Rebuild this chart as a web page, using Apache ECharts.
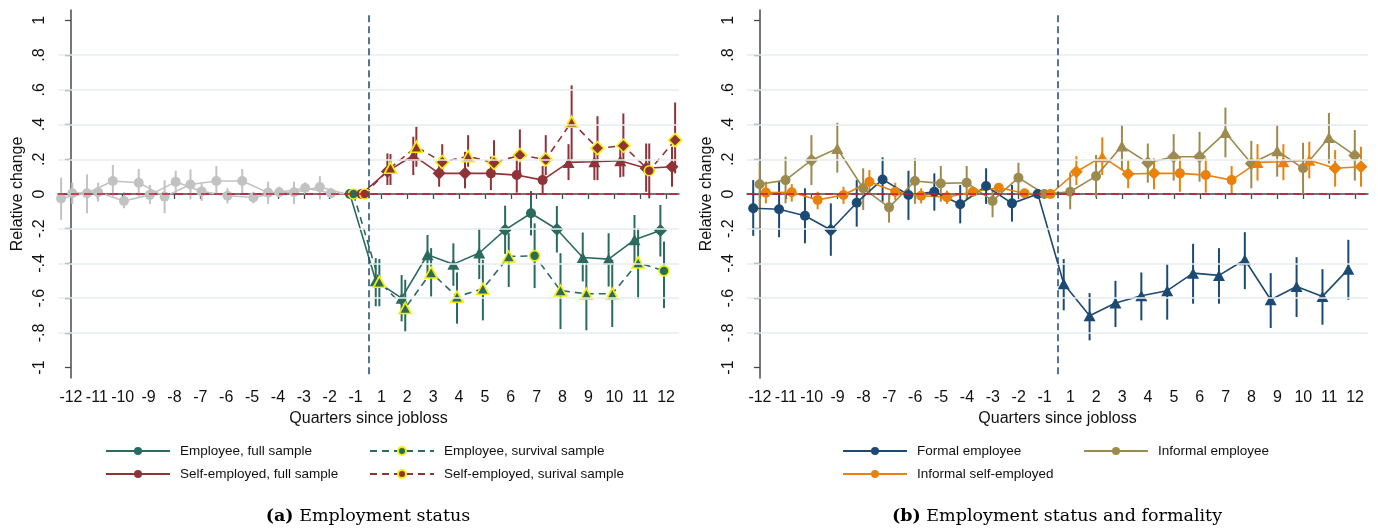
<!DOCTYPE html>
<html>
<head>
<meta charset="utf-8">
<title>Relative change around job loss</title>
<script src="https://cdn.jsdelivr.net/npm/echarts@6/dist/echarts.min.js"></script>
<style>
  html, body { margin: 0; padding: 0; background: #fff; }
  #chart { width: 1378px; height: 530px; }
</style>
</head>
<body>
<div id="chart"></div>
<script>
// Quarters relative to job loss (quarter 0 is the loss itself and is not shown)
const quarterLabels = ['-12','-11','-10','-9','-8','-7','-6','-5','-4','-3','-2','-1',
                       '1','2','3','4','5','6','7','8','9','10','11','12'];
const yTicks = [-1, -0.8, -0.6, -0.4, -0.2, 0, 0.2, 0.4, 0.6, 0.8, 1];
const gridTicks = [-0.8, -0.6, -0.4, -0.2, 0.2, 0.4, 0.6, 0.8];
const N12 = [null, null, null, null, null, null, null, null, null, null, null, null];
const PRE_EMPTY_MARKS = '-----------C';

// ---------- Panel (a): employment status ----------
// Pre-period estimates (quarters -12..-1), drawn in gray
const empPreEst = [-0.025, 0.004, 0.075, 0.065, -0.015, 0.055, 0.075, 0.075, 0.008, 0.010, 0.040, 0];
const empPreLo  = [-0.149, -0.111, -0.015, -0.015, -0.111, -0.031, -0.006, 0.004, -0.057, -0.057, -0.031, null];
const empPreHi  = [0.094, 0.113, 0.167, 0.144, 0.079, 0.142, 0.161, 0.144, 0.071, 0.071, 0.103, null];
const selfPreEst = [0.004, 0.010, -0.040, -0.005, 0.070, 0.015, -0.010, -0.020, 0.010, 0.035, 0.004, 0];
const selfPreLo  = [-0.057, -0.044, -0.082, -0.057, 0.004, -0.040, -0.054, -0.054, -0.015, -0.002, -0.025, null];
const selfPreHi  = [0.065, 0.065, 0.010, 0.052, 0.134, 0.061, 0.033, 0.013, 0.042, 0.067, 0.033, null];

// Post-period estimates (quarters 1..12); all series start from 0 at quarter -1
const empFullEst = [-0.500, -0.600, -0.350, -0.404, -0.340, -0.207, -0.111, -0.203, -0.366, -0.375, -0.264, -0.210];
const empFullLo  = [-0.647, -0.734, -0.475, -0.529, -0.490, -0.345, -0.239, -0.337, -0.504, -0.533, -0.408, -0.360];
const empFullHi  = [-0.370, -0.467, -0.236, -0.284, -0.199, -0.067, 0.017, -0.069, -0.222, -0.226, -0.121, -0.063];
const empFullMk  = 'TTTTTDCDTTTD';

const empSurvEst = [-0.506, -0.657, -0.452, -0.592, -0.546, -0.360, -0.356, -0.556, -0.575, -0.575, -0.395, -0.443];
const empSurvLo  = [-0.647, -0.791, -0.590, -0.747, -0.728, -0.536, -0.542, -0.778, -0.785, -0.766, -0.605, -0.657];
const empSurvHi  = [-0.375, -0.494, -0.312, -0.452, -0.379, -0.226, -0.169, -0.341, -0.383, -0.379, -0.197, -0.274];
const empSurvMk  = 'TTTTTTCTTTTC';

const selfFullEst = [0.130, 0.222, 0.119, 0.119, 0.119, 0.109, 0.080, 0.182, 0.186, 0.192, 0.148, 0.157];
const selfFullLo  = [0.052, 0.109, 0.042, 0.033, 0.023, 0.008, 0.004, 0.080, 0.080, 0.096, 0.013, 0.042];
const selfFullHi  = [0.234, 0.330, 0.195, 0.243, 0.215, 0.215, 0.161, 0.287, 0.272, 0.272, 0.291, 0.272];
const selfFullMk  = 'DTDDCCCTTTDD';

const selfSurvEst = [0.151, 0.272, 0.184, 0.218, 0.180, 0.224, 0.199, 0.416, 0.264, 0.278, 0.134, 0.310];
const selfSurvLo  = [0.052, 0.157, 0.109, 0.157, 0.100, 0.100, 0.109, 0.195, 0.080, 0.100, -0.025, 0.119];
const selfSurvHi  = [0.230, 0.387, 0.287, 0.339, 0.310, 0.372, 0.339, 0.626, 0.448, 0.464, 0.291, 0.527];
const selfSurvMk  = 'TTDTDDDTDDCD';

// ---------- Panel (b): employment status and formality ----------
const formalPreEst = [-0.082, -0.088, -0.125, -0.207, -0.050, 0.084, -0.006, 0.013, -0.059, 0.046, -0.054, 0];
const formalPreLo  = [-0.241, -0.249, -0.284, -0.356, -0.188, -0.044, -0.149, -0.096, -0.169, -0.057, -0.159, null];
const formalPreHi  = [0.080, 0.071, 0.033, -0.054, 0.080, 0.211, 0.134, 0.119, 0.052, 0.148, 0.052, null];
const formalPostEst = [-0.517, -0.701, -0.628, -0.586, -0.557, -0.456, -0.469, -0.379, -0.609, -0.533, -0.590, -0.433];
const formalPostLo  = [-0.670, -0.843, -0.766, -0.728, -0.724, -0.632, -0.632, -0.548, -0.772, -0.709, -0.753, -0.609];
const formalPostHi  = [-0.375, -0.571, -0.500, -0.452, -0.404, -0.287, -0.312, -0.220, -0.456, -0.364, -0.433, -0.264];
const formalMk = 'CCCDCCCCCCCC' + 'TTTTTTTTTTTT';

const infEmpPreEst = [0.056, 0.080, 0.195, 0.262, 0.033, -0.077, 0.075, 0.061, 0.065, -0.040, 0.094, 0];
const infEmpPreLo  = [-0.111, -0.054, 0.052, 0.123, -0.092, -0.165, -0.057, -0.044, -0.031, -0.134, 0.004, null];
const infEmpPreHi  = [0.180, 0.215, 0.339, 0.410, 0.148, -0.006, 0.205, 0.161, 0.161, 0.023, 0.180, null];
const infEmpPostEst = [0.013, 0.103, 0.276, 0.180, 0.215, 0.215, 0.354, 0.176, 0.249, 0.148, 0.326, 0.222];
const infEmpPostLo  = [-0.088, -0.019, 0.138, 0.065, 0.077, 0.071, 0.211, 0.033, 0.100, 0.000, 0.176, 0.077];
const infEmpPostHi  = [0.123, 0.224, 0.397, 0.291, 0.345, 0.358, 0.498, 0.306, 0.397, 0.295, 0.467, 0.368];
const infEmpMk = 'CCDTCCCCCCCC' + 'CCTDDDTDTCTD';

const infSelfPreEst = [0.008, 0.010, -0.034, -0.006, 0.071, 0.013, -0.010, -0.019, 0.013, 0.036, 0.004, 0];
const infSelfPreLo  = [-0.054, -0.044, -0.088, -0.057, 0.004, -0.034, -0.054, -0.057, -0.015, 0.008, -0.019, null];
const infSelfPreHi  = [0.071, 0.057, 0.013, 0.042, 0.138, 0.065, 0.033, 0.019, 0.038, 0.061, 0.023, null];
const infSelfPostEst = [0.128, 0.215, 0.115, 0.119, 0.119, 0.109, 0.080, 0.182, 0.186, 0.195, 0.148, 0.157];
const infSelfPostLo  = [0.052, 0.109, 0.033, 0.027, 0.013, 0.008, 0.004, 0.077, 0.080, 0.090, 0.042, 0.042];
const infSelfPostHi  = [0.218, 0.326, 0.195, 0.205, 0.218, 0.205, 0.161, 0.287, 0.287, 0.301, 0.253, 0.272];
const infSelfMk = 'CCCCCCCCCCCC' + 'DTDDCCCTTTDD';

// ---------- styling ----------
const C = {
  teal: '#2b6b5f', maroon: '#8f3339', gray: '#c2c2c2',
  navy: '#1c4a72', khaki: '#9d8a4e', orange: '#e8820c',
  zero: '#d0163e', vline: '#1c4a72', grid: '#e6eef0', axis: '#4a4a4a', yellow: '#f2f000'
};
const SANS = "'Liberation Sans', Arial, Helvetica, sans-serif";
const SERIF = "'DejaVu Serif', 'Liberation Serif', serif";
const SYMBOLS = { C: ['circle', 10], T: ['triangle', [12, 11]], D: ['diamond', [13, 13]] };

// zero anchor at quarter -1 for series that only have post-period values
const anchorPre = N12.slice(0, 11).concat([0]);

function lineData(est, marks, offset) {
  const out = [];
  est.forEach((v, i) => {
    if (v === null || v === undefined) return;
    const m = marks[i];
    const item = { value: [i + offset, v] };
    if (m === '-') { item.symbol = 'none'; }
    else { item.symbol = SYMBOLS[m][0]; item.symbolSize = SYMBOLS[m][1]; }
    out.push(item);
  });
  return out;
}
function ciData(lo, hi, offset) {
  const out = [];
  lo.forEach((l, i) => {
    if (l === null || hi[i] === null || l === undefined) return;
    out.push([i + offset, l, hi[i]]);
  });
  return out;
}
function renderCI(params, api) {
  const x = api.value(0);
  const a = api.coord([x, api.value(1)]);
  const b = api.coord([x, api.value(2)]);
  return {
    type: 'line',
    shape: { x1: a[0], y1: a[1], x2: b[0], y2: b[1] },
    style: { stroke: api.visual('color'), lineWidth: 2 }
  };
}

// One estimate series: confidence bars plus connected markers
function estimateSeries(panel, name, color, est, lo, hi, marks, offset, opts) {
  opts = opts || {};
  const ci = {
    type: 'custom', name: name + ' CI', xAxisIndex: panel * 2 + 1, yAxisIndex: panel,
    data: ciData(lo, hi, offset), renderItem: renderCI, itemStyle: { color: color },
    encode: { x: 0, y: [1, 2] }, silent: true, z: 3
  };
  const line = {
    type: 'line', name: name, xAxisIndex: panel * 2 + 1, yAxisIndex: panel,
    data: lineData(est, marks, offset), symbol: 'circle', symbolSize: 10,
    showSymbol: true, showAllSymbol: true, silent: true, z: 4,
    lineStyle: { color: color, width: 1.6, type: opts.dashed ? [7, 5] : 'solid' },
    itemStyle: opts.ring
      ? { color: color, borderColor: C.yellow, borderWidth: 1.6 }
      : { color: color, borderWidth: 0 }
  };
  return [ci, line];
}

// Gridlines, zero line and the job-loss marker for one panel
function referenceSeries(panel) {
  const md = gridTicks.map(v => ({ yAxis: v, lineStyle: { color: C.grid, width: 1.5, type: 'solid' } }));
  md.push({ yAxis: 0, lineStyle: { color: C.zero, width: 1.6, type: [8, 5] } });
  md.push([
    { xAxis: 11.5, yAxis: 1.03, lineStyle: { color: C.vline, width: 1.5, type: [7, 4] } },
    { xAxis: 11.5, yAxis: -1.06 }
  ]);
  return {
    type: 'line', name: 'ref' + panel, xAxisIndex: panel * 2 + 1, yAxisIndex: panel,
    data: [[0, 0]], showSymbol: false, symbol: 'none', lineStyle: { opacity: 0 }, silent: true, z: 1,
    markLine: { silent: true, symbol: 'none', animation: false, label: { show: false }, data: md }
  };
}

function fmtTick(v) {
  if (Math.abs(v) < 1e-9) return '0';
  const a = Math.abs(v);
  const s = Math.abs(a - 1) < 1e-9 ? '1' : a.toFixed(1).replace(/^0/, '');
  return (v < 0 ? '-' : '') + s;
}

function xAxesFor(panel) {
  return [
    {
      type: 'category', gridIndex: panel, data: quarterLabels, boundaryGap: true,
      axisLine: { show: true, lineStyle: { color: C.axis, width: 1.5 } },
      axisTick: { show: true, alignWithLabel: true, length: 5, lineStyle: { color: C.axis, width: 1.3 } },
      axisLabel: { interval: 0, margin: 12, fontSize: 16, fontFamily: SANS, color: '#111' },
      splitLine: { show: false },
      name: 'Quarters since jobloss', nameLocation: 'middle', nameGap: 25,
      nameTextStyle: { fontSize: 16, fontFamily: SANS, color: '#111' }
    },
    { type: 'value', gridIndex: panel, min: -0.5, max: 23.5, show: false, splitLine: { show: false } }
  ];
}
function yAxisFor(panel) {
  return {
    type: 'value', gridIndex: panel, min: -1.06, max: 1.06,
    axisLine: { show: true, lineStyle: { color: C.axis, width: 1.5 } },
    axisTick: { show: true, length: 6, customValues: yTicks, lineStyle: { color: C.axis, width: 1.3 } },
    axisLabel: { customValues: yTicks, rotate: 90, margin: 10, fontSize: 16, fontFamily: SANS, color: '#111', formatter: fmtTick },
    splitLine: { show: false },
    name: 'Relative change', nameLocation: 'middle', nameGap: 32,
    nameTextStyle: { fontSize: 16, fontFamily: SANS, color: '#111' }
  };
}

function legendItem(name, left, rowY) {
  return {
    data: [name], left: left, top: rowY - 7, padding: 0, orient: 'horizontal',
    itemWidth: 64, itemHeight: 10, selectedMode: false,
    textStyle: { fontSize: 13.5, fontFamily: SANS, color: '#111', padding: [0, 0, 0, 5] }
  };
}

const series = [].concat(
  referenceSeries(0),
  estimateSeries(0, 'Employee pre-period', C.gray, empPreEst.concat(N12), empPreLo.concat(N12), empPreHi.concat(N12),
    'CCCCCCCCCCC-' + '------------', -0.38),
  estimateSeries(0, 'Self-employed pre-period', C.gray, selfPreEst.concat(N12), selfPreLo.concat(N12), selfPreHi.concat(N12),
    'CCCCCCCCCCC-' + '------------', 0.05),
  estimateSeries(0, 'Employee, full sample', C.teal, anchorPre.concat(empFullEst), N12.concat(empFullLo), N12.concat(empFullHi),
    PRE_EMPTY_MARKS + empFullMk, -0.22),
  estimateSeries(0, 'Employee, survival sample', C.teal, anchorPre.concat(empSurvEst), N12.concat(empSurvLo), N12.concat(empSurvHi),
    PRE_EMPTY_MARKS + empSurvMk, -0.08, { dashed: true, ring: true }),
  estimateSeries(0, 'Self-employed, full sample', C.maroon, anchorPre.concat(selfFullEst), N12.concat(selfFullLo), N12.concat(selfFullHi),
    PRE_EMPTY_MARKS + selfFullMk, 0.23),
  estimateSeries(0, 'Self-employed, surival sample', C.maroon, anchorPre.concat(selfSurvEst), N12.concat(selfSurvLo), N12.concat(selfSurvHi),
    PRE_EMPTY_MARKS + selfSurvMk, 0.35, { dashed: true, ring: true }),

  referenceSeries(1),
  estimateSeries(1, 'Formal employee', C.navy, formalPreEst.concat(formalPostEst), formalPreLo.concat(formalPostLo),
    formalPreHi.concat(formalPostHi), formalMk, -0.26),
  estimateSeries(1, 'Informal employee', C.khaki, infEmpPreEst.concat(infEmpPostEst), infEmpPreLo.concat(infEmpPostLo),
    infEmpPreHi.concat(infEmpPostHi), infEmpMk, -0.01),
  estimateSeries(1, 'Informal self-employed', C.orange, infSelfPreEst.concat(infSelfPostEst), infSelfPreLo.concat(infSelfPostLo),
    infSelfPreHi.concat(infSelfPostHi), infSelfMk, 0.23)
);

const option = {
  animation: false,
  backgroundColor: '#ffffff',
  grid: [
    { left: 58, top: 10, width: 621, height: 368 },
    { left: 747, top: 10, width: 621, height: 368 }
  ],
  xAxis: xAxesFor(0).concat(xAxesFor(1)),
  yAxis: [yAxisFor(0), yAxisFor(1)],
  legend: [
    legendItem('Employee, full sample', 105, 451),
    legendItem('Self-employed, full sample', 105, 474),
    legendItem('Employee, survival sample', 369, 451),
    legendItem('Self-employed, surival sample', 369, 474),
    legendItem('Formal employee', 842, 451),
    legendItem('Informal self-employed', 842, 474),
    legendItem('Informal employee', 1083, 451)
  ],
  title: [
    {
      text: '{b|(a)} Employment status', left: 368, top: 507, textAlign: 'center', padding: 0,
      textStyle: { fontFamily: SERIF, fontSize: 17.5, fontWeight: 'normal', color: '#000',
        rich: { b: { fontFamily: SERIF, fontSize: 17.5, fontWeight: 'bold', color: '#000' } } }
    },
    {
      text: '{b|(b)} Employment status and formality', left: 1057, top: 507, textAlign: 'center', padding: 0,
      textStyle: { fontFamily: SERIF, fontSize: 17.5, fontWeight: 'normal', color: '#000',
        rich: { b: { fontFamily: SERIF, fontSize: 17.5, fontWeight: 'bold', color: '#000' } } }
    }
  ],
  series: series
};

const chart = echarts.init(document.getElementById('chart'), null, { renderer: 'canvas' });
chart.setOption(option);
</script>
</body>
</html>
